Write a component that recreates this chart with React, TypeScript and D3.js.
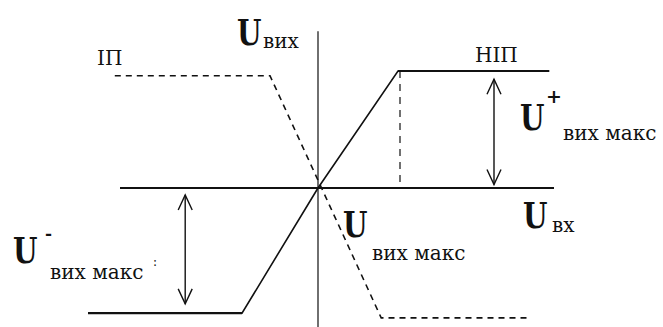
import React from "react";
import * as d3 from "d3";

// Transfer characteristic (normalized units)
const nipCurve: [number, number][] = [
  [-2.875, -1.07], [-0.95, -1.07], [0, 0], [1.0, 1.0], [2.89, 1.0],
];
const ipCurve: [number, number][] = [
  [-2.54, 0.96], [-0.6, 0.96], [0.79, -1.11], [2.66, -1.11],
];
const xAxisRange = [-2.475, 2.95];
const yAxisRange = [-1.2, 1.34];
const satX = 1.0; // dashed drop line at saturation point
const arrowPos = { x: 2.2, from: 0.03, to: 0.93 };
const arrowNeg = { x: -1.66, from: -0.06, to: -0.99 };

const W = 663, H = 327;

export default function App() {
  const x = d3.scaleLinear().domain([-3, 3]).range([318 - 240, 318 + 240]);
  const y = d3.scaleLinear().domain([-1, 1]).range([188 + 117, 188 - 117]);
  const line = d3.line<[number, number]>().x(d => x(d[0])).y(d => y(d[1]));
  const serif = "DejaVu Serif";

  const arrow = (a: { x: number; from: number; to: number }) => {
    const ax = x(a.x), y1 = y(a.from), y2 = y(a.to);
    const dir1 = y1 < y2 ? 1 : -1;
    const dir2 = -dir1;
    return (
      <g stroke="#111" fill="none" strokeWidth={1.4}>
        <line x1={ax} x2={ax} y1={y1} y2={y2} />
        <polyline points={`${ax - 7},${y1 + dir1 * 15} ${ax},${y1} ${ax + 7},${y1 + dir1 * 15}`} />
        <polyline points={`${ax - 7},${y2 + dir2 * 15} ${ax},${y2} ${ax + 7},${y2 + dir2 * 15}`} />
      </g>
    );
  };

  const U = (ux: number, uy: number) => (
    <text transform={`translate(${ux},${uy}) scale(0.78,1)`} fontSize={36} fontWeight="bold">U</text>
  );
  const sub = { fontSize: 20 };

  return (
    <svg width={W} height={H} style={{ position: "absolute", left: 0, top: 0, background: "#fff" }}>
      {/* axes */}
      <line x1={x(xAxisRange[0])} x2={x(xAxisRange[1])} y1={y(0)} y2={y(0)} stroke="#111" strokeWidth={2} />
      <line x1={x(0)} x2={x(0)} y1={y(yAxisRange[1])} y2={y(yAxisRange[0]) + 10} stroke="#222" strokeWidth={1.3} />
      {/* NIP */}
      <path d={line(nipCurve) || ""} fill="none" stroke="#111" strokeWidth={1.6} />
      <line x1={x(nipCurve[3][0])} x2={x(nipCurve[4][0])} y1={y(1)} y2={y(1)} stroke="#111" strokeWidth={2.2} />
      <line x1={x(nipCurve[0][0])} x2={x(nipCurve[1][0])} y1={y(-1.07)} y2={y(-1.07)} stroke="#111" strokeWidth={2.2} />
      {/* IP */}
      <path d={line(ipCurve) || ""} fill="none" stroke="#111" strokeWidth={1.6} strokeDasharray="6,5" />
      {/* saturation drop */}
      <line x1={x(satX) + 2} x2={x(satX) + 2} y1={y(1)} y2={y(0)} stroke="#111" strokeWidth={1.2} strokeDasharray="7,6" />
      {arrow(arrowPos)}
      {arrow(arrowNeg)}
      {/* labels */}
      <g style={{ fontFamily: serif }} fill="#111">
        <text x={97} y={65} fontSize={20}>ІП</text>
        <text x={475} y={62} fontSize={20}>НІП</text>
        {U(237, 45)}
        <text x={263} y={48} {...sub}>вих</text>
        {U(520, 130)}
        <text x={546} y={103} fontSize={19} fontWeight="bold">+</text>
        <text x={563} y={140} {...sub}>вих макс</text>
        {U(13, 263)}
        <text x={45} y={239} fontSize={17} fontWeight="bold">-</text>
        <text x={50} y={279} {...sub}>вих макс</text>
        <text x={153} y={266} fontSize={12}>:</text>
        {U(343, 237)}
        <text x={372} y={260} {...sub}>вих макс</text>
        {U(523, 228)}
        <text x={552} y={232} {...sub}>вх</text>
      </g>
    </svg>
  );
}
